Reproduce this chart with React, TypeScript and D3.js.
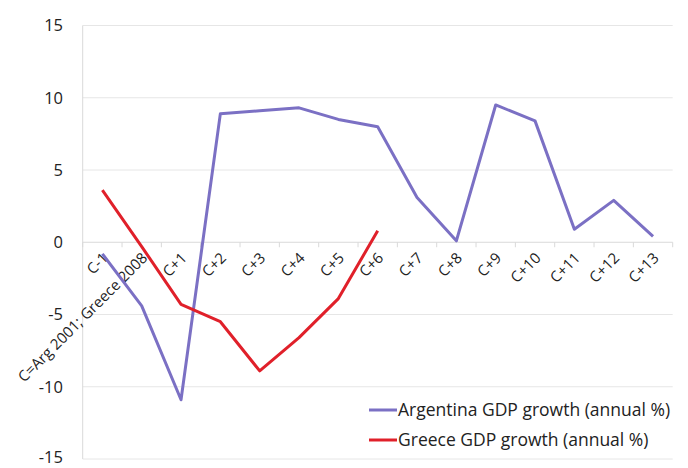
import React from "react";
import * as d3 from "d3";

const categories = ["C-1", "C=Arg 2001; Greece 2008", "C+1", "C+2", "C+3", "C+4", "C+5", "C+6", "C+7", "C+8", "C+9", "C+10", "C+11", "C+12", "C+13"];
const argentina = [-0.8, -4.4, -10.9, 8.9, 9.1, 9.3, 8.5, 8.0, 3.1, 0.1, 9.5, 8.4, 0.9, 2.9, 0.4];
const greece: (number | null)[] = [3.6, -0.3, -4.3, -5.5, -8.9, -6.6, -3.9, 0.8, null, null, null, null, null, null, null];
const yTicks = [-15, -10, -5, 0, 5, 10, 15];
const seriesNames = ["Argentina GDP growth (annual %)", "Greece GDP growth (annual %)"];
const seriesColors = ["#7b70c4", "#e0202a"];

const W = 688, H = 468;
const left = 82.7, right = 672.7, top = 25.5, bottom = 459;
const FONT = "'Open Sans', sans-serif";

export default function App() {
  const x = d3.scaleBand<string>().domain(categories).range([left, right]);
  const y = d3.scaleLinear().domain([-15, 15]).range([bottom, top]);
  const cx = (c: string) => (x(c) as number) + x.bandwidth() / 2;

  const line = d3
    .line<number | null>()
    .defined((d) => d !== null)
    .x((_, i) => cx(categories[i]))
    .y((d) => y(d as number));

  const y0 = y(0);

  return (
    <svg width={W} height={H} style={{ position: "absolute", left: 0, top: 0, background: "#fff" }}>
      <rect width={W} height={H} fill="#fff" />
      {yTicks.map((t) => (
        <line key={"g" + t} x1={left} x2={right} y1={y(t)} y2={y(t)} stroke={t === 0 ? "#d9d9d9" : "#e6e6e6"} strokeWidth={1} />
      ))}
      <line x1={left} x2={left} y1={top} y2={bottom} stroke="#d9d9d9" strokeWidth={1} />
      {yTicks.map((t) => (
        <text key={"yl" + t} x={63} y={Math.min(y(t), 457)} dy="0.36em" textAnchor="end" fontFamily={FONT} fontSize={16.5} fill="#222">
          {t}
        </text>
      ))}
      {x.domain().map((c) => (
        <line key={"tk" + c} x1={x(c)! + x.bandwidth()} x2={x(c)! + x.bandwidth()} y1={y0} y2={y0 + 5} stroke="#d9d9d9" />
      ))}
      <line x1={left} x2={left} y1={y0} y2={y0 + 5} stroke="#d9d9d9" />
      {categories.map((c) => (
        <text
          key={"xl" + c}
          transform={`translate(${cx(c) + 3},${y0 + 13}) rotate(-45)`}
          textAnchor="end"
          dy="0.35em"
          fontFamily={FONT}
          fontSize={15}
          fill="#222"
        >
          {c}
        </text>
      ))}
      <path d={line(argentina) || ""} fill="none" stroke={seriesColors[0]} strokeWidth={3} strokeLinejoin="round" />
      <path d={line(greece) || ""} fill="none" stroke={seriesColors[1]} strokeWidth={3} strokeLinejoin="round" />
      <rect x={362} y={394} width={312} height={60} fill="#fff" />
      {seriesNames.map((n, i) => (
        <g key={n}>
          <line x1={369} x2={397} y1={410 + i * 30} y2={410 + i * 30} stroke={seriesColors[i]} strokeWidth={3} />
          <text x={398} y={410 + i * 30} dy="0.36em" fontFamily={FONT} fontSize={17.5} fill="#222">
            {n}
          </text>
        </g>
      ))}
    </svg>
  );
}
